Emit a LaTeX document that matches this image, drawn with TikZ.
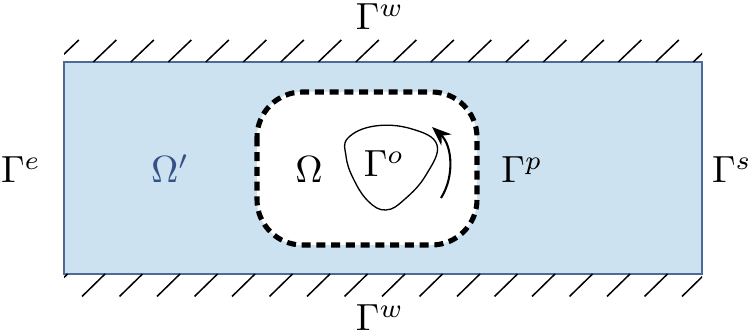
\documentclass[tikz,border=0pt]{standalone}
\usepackage{amsmath,amssymb}
\usetikzlibrary{arrows.meta}
\definecolor{domfill}{RGB}{204,226,240}
\definecolor{domedge}{RGB}{79,106,150}
\definecolor{domtext}{RGB}{52,82,134}
\tikzset{
  dom/.style={fill=domfill,draw=domedge,line width=0.45pt},
  wall/.style={line width=0.4pt},
  porous/.style={draw=black,fill=white,line width=1.35pt,dash pattern=on 2.4pt off 1.5pt,rounded corners=12pt},
  obst/.style={line width=0.35pt},
  rot/.style={-{Stealth[length=1.8mm,width=1.4mm]},line width=0.55pt},
  lbl/.style={anchor=base,inner sep=0pt},
}
\begin{document}
\begin{tikzpicture}[x=0.0093cm,y=-0.0093cm]
  \useasboundingbox (0,0) rectangle (752,336);
  \draw[dom] (64,62) rectangle (702,274);
  % walls top and bottom
  \begin{scope}
    \clip (64,30) rectangle (702,310);
    \foreach \k in {0,...,17}{
      \draw[wall] (55.8+37.5*\k,62)--++(23,-22);
      \draw[wall] (67.5+37.5*\k,274)--++(-23,22.5);
    }
  \end{scope}
  % porous zone and obstacle
  \draw[porous] (257,92) rectangle (477,245);
  \draw[obst] plot[smooth cycle,tension=0.7] coordinates
    {(348,138) (375,126) (412,129) (437,145) (426,175) (405,199) (386,210) (368,201) (353,178) (346,156)};
  \draw[rot] (441,198) .. controls (455,176) and (452,145) .. (432,127);
  % labels
  \node[lbl] (wtop) at (380,30) {$\Gamma^w$};
  \node[lbl] (wbot) at (380,331) {$\Gamma^w$};
  \node[lbl] (gine) at (21,183) {$\Gamma^e$};
  \node[lbl] (gout) at (732,183) {$\Gamma^s$};
  \node[lbl,text=domtext] (omx) at (170,183) {$\Omega'$};
  \node[lbl] (om) at (309,183) {$\Omega$};
  \node[lbl] (gob) at (384,177) {$\Gamma^o$};
  \node[lbl] (gpo) at (522,183) {$\Gamma^p$};
\end{tikzpicture}
\end{document}
